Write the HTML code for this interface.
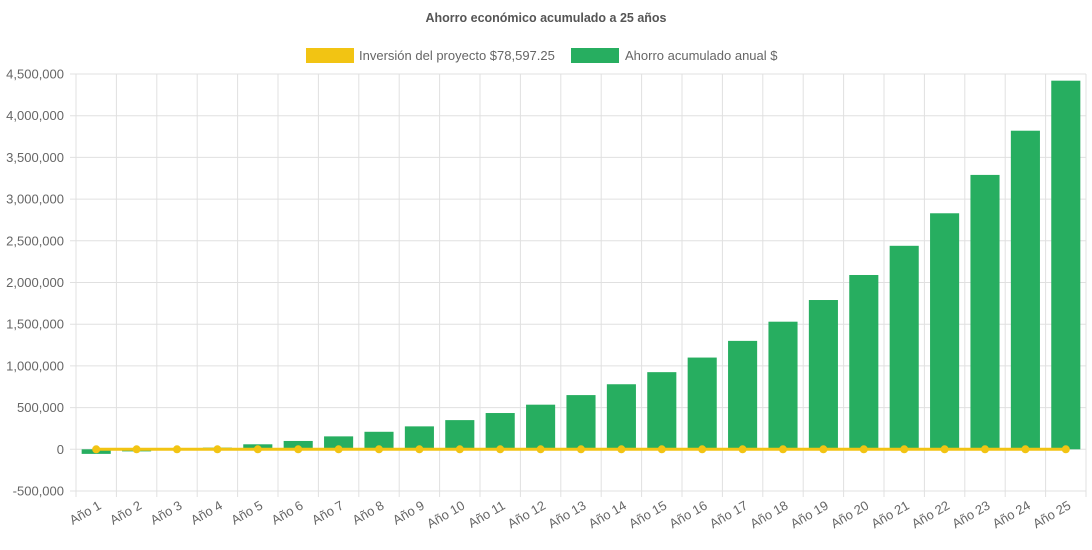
<!DOCTYPE html>
<html><head><meta charset="utf-8"><style>
body{margin:0;background:#fff;font-family:"Liberation Sans",sans-serif}
svg text{font-family:"Liberation Sans",sans-serif}
</style></head><body>
<svg id="c" width="1092" height="545">
<text x="546" y="22" text-anchor="middle" font-size="12.5" font-weight="bold" fill="#555">Ahorro económico acumulado a 25 años</text>
<g>
<rect x="306" y="48" width="48" height="15" fill="#f2c413"/>
<text x="359" y="60" font-size="13" fill="#666">Inversión del proyecto $78,597.25</text>
<rect x="571" y="48" width="48" height="15" fill="#27ae60"/>
<text x="625" y="60" font-size="13" fill="#666">Ahorro acumulado anual $</text>
</g>
<g id="grid"></g><g id="bars"></g><g id="line"></g><g id="axes"></g>
</svg>
<script>
const categories=["Año 1","Año 2","Año 3","Año 4","Año 5","Año 6","Año 7","Año 8","Año 9","Año 10","Año 11","Año 12","Año 13","Año 14","Año 15","Año 16","Año 17","Año 18","Año 19","Año 20","Año 21","Año 22","Año 23","Año 24","Año 25"];
const savings=[-55000,-25000,5000,20000,60000,100000,155000,210000,275000,350000,435000,535000,650000,780000,925000,1100000,1300000,1530000,1790000,2090000,2440000,2830000,3290000,3820000,4420000];
const investment=[0,0,0,0,0,0,0,0,0,0,0,0,0,0,0,0,0,0,0,0,0,0,0,0,0];
const yTicks=[4500000,4000000,3500000,3000000,2500000,2000000,1500000,1000000,500000,0,-500000];
const NS="http://www.w3.org/2000/svg";
const L=76,R=1086,T=74,B=491,ymin=-500000,ymax=4500000;
const step=(R-L)/categories.length;
const y=v=>B-(v-ymin)/(ymax-ymin)*(B-T);
const x=i=>L+step*(i+0.5);
function mk(t,a,p){const e=document.createElementNS(NS,t);for(const k in a)e.setAttribute(k,a[k]);p.appendChild(e);return e;}
const g=document.getElementById('grid'),ax=document.getElementById('axes');
yTicks.forEach(v=>{
const ln=mk('line',{x1:L-6,x2:R,y1:y(v),y2:y(v),stroke:'#e0e0e0'},g);


const t=mk('text',{x:L-12,y:y(v)+4.5,'text-anchor':'end','font-size':13,fill:'#666'},ax);
t.textContent=v.toLocaleString('en-US');


});
for(let i=0;i<=categories.length;i++){
const gx=L+step*i;
const ln=mk('line',{x1:gx,x2:gx,y1:T,y2:B+6,stroke:'#e0e0e0'},g);


}
const bg=document.getElementById('bars');
savings.forEach((v,i)=>{
const w=step*0.72,y0=y(0),yv=y(v);
const r=mk('rect',{x:x(i)-w/2,y:Math.min(y0,yv),width:w,height:Math.abs(y0-yv),fill:'#27ae60'},bg);


const t=mk('text',{x:0,y:0,'text-anchor':'end','font-size':13,fill:'#666',transform:`translate(${x(i)+6},${B+17}) rotate(-30)`},ax);
t.textContent=categories[i];


});
const lg=document.getElementById('line');
const pl=mk('polyline',{points:investment.map((v,i)=>x(i)+','+y(v)).join(' '),fill:'none',stroke:'#f2c413','stroke-width':3},lg);


investment.forEach((v,i)=>{
const c=mk('circle',{cx:x(i),cy:y(v),r:4,fill:'#f2c413'},lg);


});
</script>
</body></html>
